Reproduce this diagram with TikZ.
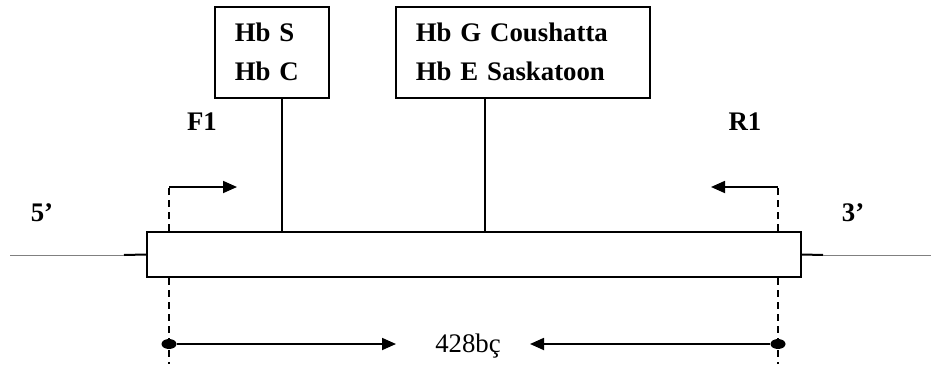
\documentclass[tikz,border=0pt]{standalone}
\usepackage{fontspec}
\setmainfont{Liberation Serif}
\usepackage{tikz}
\usetikzlibrary{positioning}
\usetikzlibrary{arrows.meta}
\usetikzlibrary{shapes.geometric}

\begin{document}
\begin{tikzpicture}[
				x=0.5pt, y=-0.5pt,
				font=\fontsize{13.4}{19.5}\selectfont,
				mutbox/.style={rectangle, draw, line width=0.75pt, align=left, font=\fontsize{13.4}{19.5}\selectfont\bfseries, inner xsep=10pt, minimum height=45.5pt, anchor=north west},
				genebox/.style={rectangle, draw, line width=1pt, minimum width=327pt, minimum height=22.5pt},
				lab/.style={font=\fontsize{13.4}{15}\selectfont\bfseries},
				flank/.style={gray, line width=0.5pt},
				primer/.style={-{Triangle[length=7pt, width=6pt]}, line width=0.9pt},
				guide/.style={dashed, dash pattern=on 3.5pt off 2.5pt, line width=0.75pt},
				dot/.style={ellipse, fill, inner sep=0pt, minimum width=7.5pt, minimum height=5pt}
			]
			\useasboundingbox (0,0) rectangle (931,364);

			% Gene
			\node[genebox] (gene) at (474,254.5) {};
			\coordinate (lend) at (10,255);
			\coordinate (ltick) at (124,255);
			\coordinate (rtick) at (823,255);
			\coordinate (rend) at (931,255);
			\draw[flank] (lend) -- (ltick);
			\draw[line width=1pt] (ltick) -- (gene.west);
			\draw[line width=1pt] (gene.east) -- (rtick);
			\draw[flank] (rtick) -- (rend);

			% Mutations
			\node[mutbox, text width=37pt] (mutA) at (214,6) {Hb S\\Hb C};
			\node[mutbox, text width=107pt] (mutB) at (395,6) {Hb G Coushatta\\Hb E Saskatoon};
			\coordinate (siteA) at (282,97);
			\coordinate (siteB) at (485,97);
			\draw[line width=0.6pt] (siteA) -- (siteA |- gene.north);
			\draw[line width=0.6pt] (siteB) -- (siteB |- gene.north);

			% Primers
			\coordinate (fstart) at (169,187);
			\coordinate (fend) at (237,187);
			\coordinate (rstart) at (778,187);
			\coordinate (rend1) at (711,187);
			\draw[guide] (gene.north -| fstart) -- (fstart);
			\draw[guide] (gene.north -| rstart) -- (rstart);
			\draw[primer] (fstart) -- (fend);
			\draw[primer] (rstart) -- (rend1);
			\node[lab] (f1) at (202,122) {F1};
			\node[lab] (r1) at (745,122) {R1};
			\node[lab] (five) at (42,213) {5’};
			\node[lab] (three) at (853,213) {3’};

			% Product length
			\node[dot] (fdot) at (169,344) {};
			\node[dot] (rdot) at (778,344) {};
			\draw[guide] (gene.south -| fdot) -- (169,364);
			\draw[guide] (gene.south -| rdot) -- (778,364);
			\node (len) at (468,346) {428bç};
			\coordinate (lentipA) at (396,344);
			\coordinate (lentipB) at (530,344);
			\draw[primer] (fdot) -- (lentipA);
			\draw[primer] (rdot) -- (lentipB);

		\end{tikzpicture}
\end{document}
